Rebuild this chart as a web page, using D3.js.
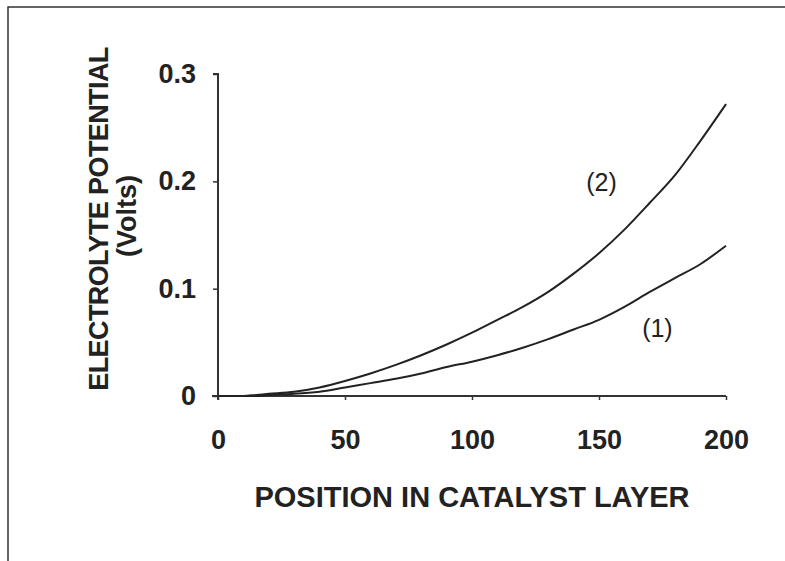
<!DOCTYPE html>
<html>
<head>
<meta charset="utf-8">
<script src="https://cdn.jsdelivr.net/npm/d3@7"></script>
<style>
  body { margin: 0; background: #fff; }
  text { font-family: "Liberation Sans", Arial, sans-serif; fill: #222; }
</style>
</head>
<body>
<div id="chart"></div>
<script>
// Electrolyte potential vs position in catalyst layer

var xTicks = [0, 50, 100, 150, 200];
var yTicks = [0, 0.1, 0.2, 0.3];

var positions = [0, 10, 15, 20, 30, 40, 50, 60, 70, 80, 90, 100, 110, 120, 130, 140, 150, 160, 170, 180, 190, 200];
var curve1 = [0, 0, 0, 0.001, 0.002, 0.004, 0.008, 0.012, 0.016, 0.021, 0.027, 0.032, 0.038, 0.045, 0.053, 0.062, 0.071, 0.083, 0.097, 0.110, 0.123, 0.140];
var curve2 = [0, 0, 0.001, 0.002, 0.004, 0.008, 0.014, 0.021, 0.029, 0.038, 0.048, 0.059, 0.071, 0.083, 0.097, 0.114, 0.133, 0.155, 0.180, 0.206, 0.238, 0.272];

var seriesNames = ["(1)", "(2)"];
var labelAt = [{x: 173, y: 0.063}, {x: 151, y: 0.199}];

var width = 785, height = 561;
var margin = {top: 74, right: 59, bottom: 165, left: 218};

var svg = d3.select("#chart").append("svg")
    .attr("width", width)
    .attr("height", height);

// scan frame (top + left edges only)
svg.append("path")
    .attr("d", "M8,561 L8,7 L785,7")
    .attr("fill", "none")
    .attr("stroke", "#333")
    .attr("stroke-width", 1.5);

var xScale = d3.scaleLinear()
    .domain([0, 200])
    .range([margin.left, width - margin.right]);

var yScale = d3.scaleLinear()
    .domain([0, 0.3])
    .range([height - margin.bottom, margin.top]);

var xAxis = d3.axisBottom(xScale).tickValues(xTicks).tickSize(4).tickFormat(d3.format("d"));
var yAxis = d3.axisLeft(yScale).tickValues(yTicks).tickSize(5)
    .tickFormat(function(d) { return d === 0 ? "0" : d3.format(".1f")(d); });

var gx = svg.append("g")
    .attr("transform", "translate(0," + yScale(0) + ")")
    .call(xAxis);
gx.select(".domain").attr("stroke", "#333").attr("stroke-width", 2).attr("d", "M" + (margin.left - 6) + ",0H" + xScale(200));
gx.selectAll(".tick line").attr("stroke", "#333").attr("stroke-width", 1.5);
gx.selectAll(".tick text")
    .attr("y", 34)
    .style("font-size", "27px")
    .style("font-weight", "bold");

var gy = svg.append("g")
    .attr("transform", "translate(" + xScale(0) + ",0)")
    .call(yAxis);
gy.select(".domain").attr("stroke", "#333").attr("stroke-width", 2).attr("d", "M-5," + yScale(0.3) + "H0V" + (yScale(0) + 4));
gy.selectAll(".tick line").attr("stroke", "#333").attr("stroke-width", 1.5);
gy.selectAll(".tick text")
    .attr("x", -22)
    .style("font-size", "27px")
    .style("font-weight", "bold");

var line = d3.line()
    .curve(d3.curveMonotoneX)
    .x(function(d) { return xScale(d[0]); })
    .y(function(d) { return yScale(d[1]); });

[curve1, curve2].forEach(function(vals, i) {
    var pts = positions.map(function(p, j) { return [p, vals[j]]; });
    svg.append("path")
        .datum(pts)
        .attr("d", line)
        .attr("fill", "none")
        .attr("stroke", "#222")
        .attr("stroke-width", 2);
    svg.append("text")
        .attr("x", xScale(labelAt[i].x))
        .attr("y", yScale(labelAt[i].y))
        .attr("text-anchor", "middle")
        .attr("dy", "0.35em")
        .style("font-size", "25px")
        .text(seriesNames[i]);
});

// axis titles
svg.append("text")
    .attr("x", 472)
    .attr("y", 507)
    .attr("text-anchor", "middle")
    .style("font-size", "29px")
    .style("font-weight", "bold")
    .style("letter-spacing", "0px")
    .text("POSITION IN CATALYST LAYER");

svg.append("text")
    .attr("transform", "translate(108,219) rotate(-90)")
    .attr("text-anchor", "middle")
    .style("font-size", "27px")
    .style("font-weight", "bold")
    .style("letter-spacing", "-0.6px")
    .text("ELECTROLYTE POTENTIAL");

svg.append("text")
    .attr("transform", "translate(136,216) rotate(-90)")
    .attr("text-anchor", "middle")
    .style("font-size", "27px")
    .style("font-weight", "bold")
    .text("(Volts)");
</script>
</body>
</html>
